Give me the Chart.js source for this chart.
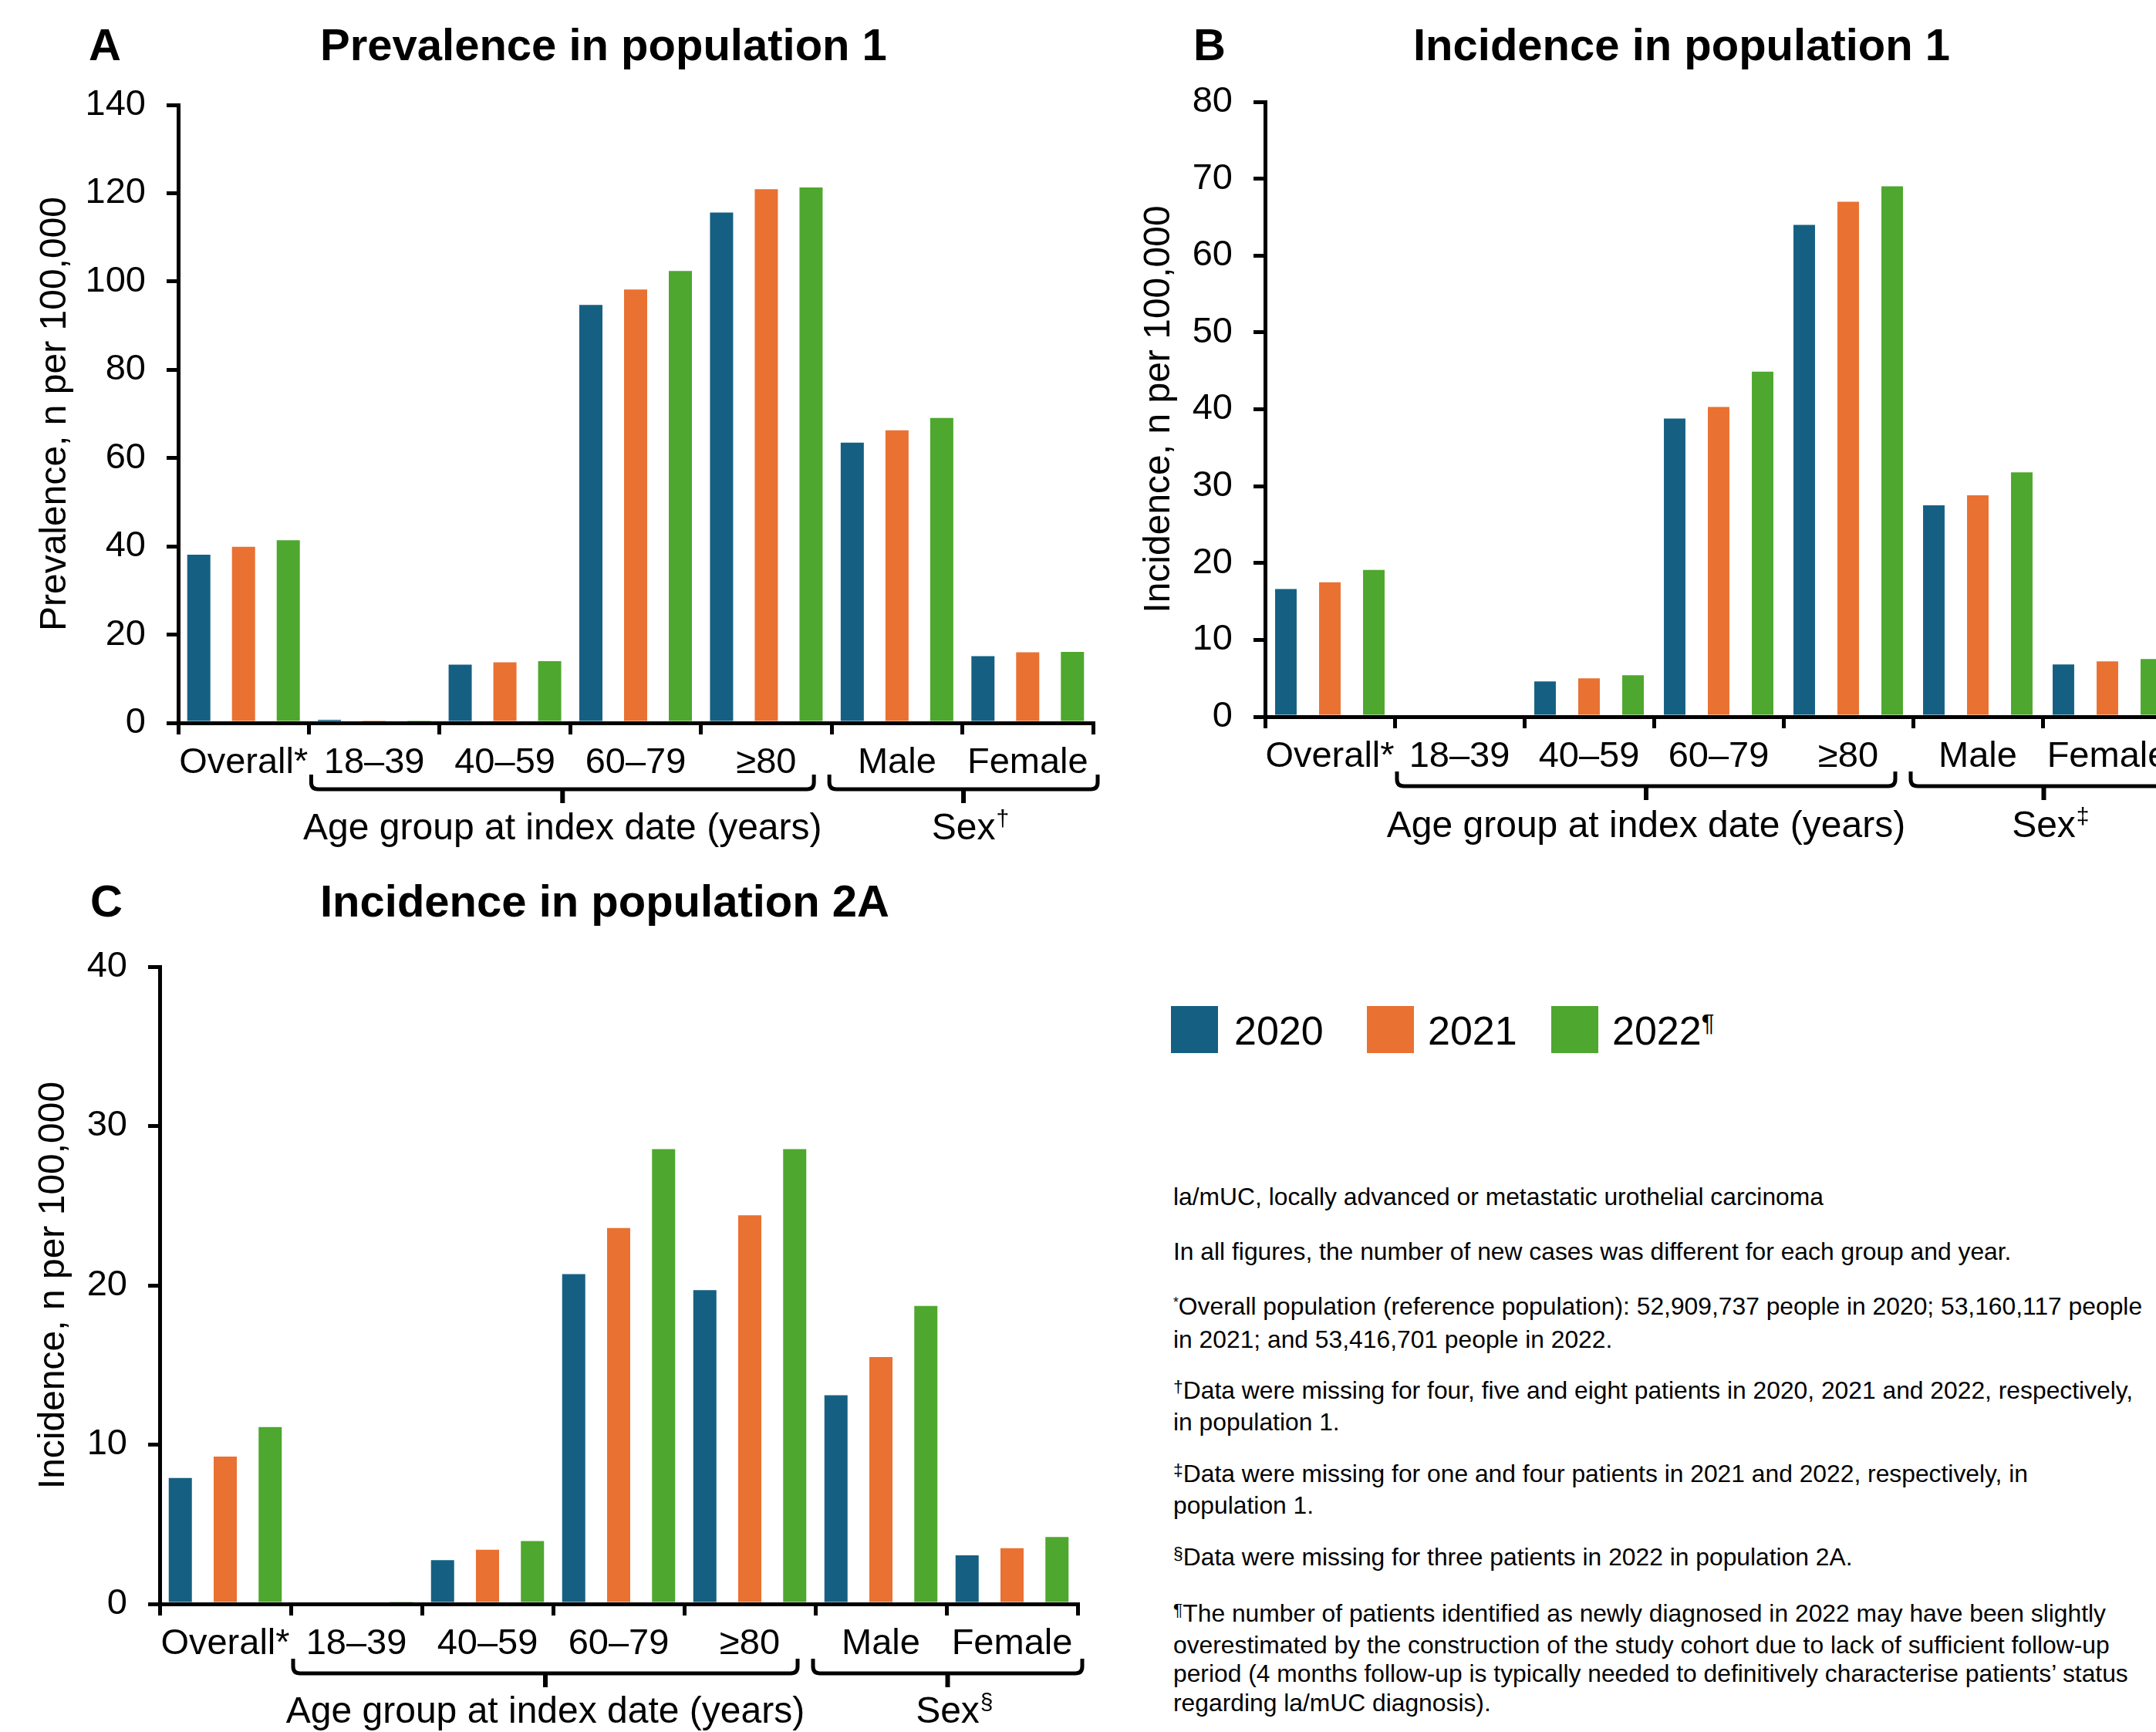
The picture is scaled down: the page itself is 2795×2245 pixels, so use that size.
<!DOCTYPE html>
<html>
<head>
<meta charset="utf-8">
<script src="https://cdn.jsdelivr.net/npm/chart.js@4.4.1/dist/chart.umd.min.js"></script>
<style>
html,body{margin:0;padding:0;background:#fff;}
#page{position:relative;width:2795px;height:2245px;overflow:hidden;background:#fff;font-family:"Liberation Sans",Arial,sans-serif;color:#000;}
#page canvas{position:absolute;}
.ttl{position:absolute;white-space:nowrap;font-weight:bold;font-size:58px;line-height:58px;}
.fn{position:absolute;left:1521px;font-size:31.8px;line-height:37.5px;white-space:nowrap;}
.fn .s{font-size:0.72em;position:relative;top:-0.35em;}
.fn .a{font-size:0.55em;position:relative;top:-0.6em;}
.lg{position:absolute;top:1304px;width:61px;height:61px;}
.lt{position:absolute;top:1310px;font-size:52px;line-height:52px;white-space:nowrap;}
.lt .s{font-size:0.6em;position:relative;top:-0.55em;}
</style>
</head>
<body>
<div id="page">
  <canvas id="cA" width="1440" height="1130" style="left:0px;top:0px;width:1440px;height:1130px"></canvas>
  <canvas id="cB" width="1440" height="1130" style="left:1400px;top:0px;width:1440px;height:1130px"></canvas>
  <canvas id="cC" width="1440" height="1105" style="left:0px;top:1140px;width:1440px;height:1105px"></canvas>

  <div class="ttl" style="left:115px;top:29px">A</div>
  <div class="ttl" style="left:415px;top:29px">Prevalence in population 1</div>
  <div class="ttl" style="left:1547px;top:29px">B</div>
  <div class="ttl" style="left:1832px;top:29px">Incidence in population 1</div>
  <div class="ttl" style="left:117px;top:1139px">C</div>
  <div class="ttl" style="left:415px;top:1139px">Incidence in population 2A</div>

  <div id="legend"></div>

  <div class="fn" style="top:1533px">la/mUC, locally advanced or metastatic urothelial carcinoma</div>
  <div class="fn" style="top:1604px">In all figures, the number of new cases was different for each group and year.</div>
  <div class="fn" style="top:1675px"><span class="a">*</span>Overall population (reference population): 52,909,737 people in 2020; 53,160,117 people<br>in 2021; and 53,416,701 people in 2022.</div>
  <div class="fn" style="top:1784px"><span class="s">†</span>Data were missing for four, five and eight patients in 2020, 2021 and 2022, respectively,<br>in population 1.</div>
  <div class="fn" style="top:1892px"><span class="s">‡</span>Data were missing for one and four patients in 2021 and 2022, respectively, in<br>population 1.</div>
  <div class="fn" style="top:2000px"><span class="s">§</span>Data were missing for three patients in 2022 in population 2A.</div>
  <div class="fn" style="top:2073px"><span class="s">¶</span>The number of patients identified as newly diagnosed in 2022 may have been slightly<br>overestimated by the construction of the study cohort due to lack of sufficient follow-up<br>period (4 months follow-up is typically needed to definitively characterise patients’ status<br>regarding la/mUC diagnosis).</div>
</div>

<script>
// ---------- DATA ----------
const categories = ['Overall*', '18–39', '40–59', '60–79', '≥80', 'Male', 'Female'];
const years = ['2020', '2021', '2022'];
const yearMarks = ['', '', '¶'];
const colors = ['#156082', '#E97132', '#4EA72E'];

// A: Prevalence in population 1 (n per 100,000)
const prevPop1_2020 = [38.1, 0.7, 13.2, 94.7, 115.6, 63.5, 15.1];
const prevPop1_2021 = [39.9, 0.2, 13.7, 98.2, 120.9, 66.3, 16.0];
const prevPop1_2022 = [41.4, 0.2, 14.0, 102.4, 121.3, 69.1, 16.1];

// B: Incidence in population 1
const incPop1_2020 = [16.6, 0, 4.6, 38.8, 64.0, 27.5, 6.8];
const incPop1_2021 = [17.5, 0, 5.0, 40.3, 67.0, 28.8, 7.2];
const incPop1_2022 = [19.1, 0, 5.4, 44.9, 69.0, 31.8, 7.5];

// C: Incidence in population 2A
const incPop2A_2020 = [7.9, 0, 2.75, 20.7, 19.7, 13.1, 3.05];
const incPop2A_2021 = [9.25, 0, 3.4, 23.6, 24.4, 15.5, 3.5];
const incPop2A_2022 = [11.1, 0.1, 3.95, 28.55, 28.55, 18.7, 4.2];

// y-axis tick ranges
const yRangeA = [0, 140, 20];
const yRangeB = [0, 80, 10];
const yRangeC = [0, 40, 10];

const yTitles = ['Prevalence, n per 100,000', 'Incidence, n per 100,000', 'Incidence, n per 100,000'];
const ageGroupLabel = 'Age group at index date (years)';
const sexGroupLabel = 'Sex';
const sexMarks = ['†', '‡', '§'];
// ---------------------------

const FONT = '"Liberation Sans", Arial, sans-serif';

// legend
(function(){
  const lg = document.getElementById('legend');
  const boxX = [1518, 1772, 2011];
  const txtX = [1600, 1851, 2090];
  years.forEach((y, i) => {
    const b = document.createElement('div');
    b.className = 'lg'; b.style.left = boxX[i] + 'px'; b.style.background = colors[i];
    lg.appendChild(b);
    const t = document.createElement('div');
    t.className = 'lt'; t.style.left = txtX[i] + 'px';
    t.innerHTML = y + (yearMarks[i] ? '<span class="s">' + yearMarks[i] + '</span>' : '');
    lg.appendChild(t);
  });
})();

const bracePlugin = {
  id: 'braces',
  afterDraw(chart, args, o) {
    const x = chart.scales.x;
    const ctx = chart.ctx;
    const half = (x.getPixelForValue(1) - x.getPixelForValue(0)) / 2;
    const base = chart.chartArea.bottom;
    ctx.save();
    ctx.strokeStyle = '#000';
    ctx.fillStyle = '#000';
    ctx.lineJoin = 'round';
    o.groups.forEach(g => {
      const L = x.getPixelForValue(g.from) - half + g.padL;
      const R = x.getPixelForValue(g.to) + half + g.padR;
      const yH = base + o.hOff, yT = base + o.topOff, yN = base + o.notchOff, r = 9;
      ctx.lineWidth = 5;
      ctx.beginPath();
      ctx.moveTo(L, yT);
      ctx.lineTo(L, yH - r);
      ctx.quadraticCurveTo(L, yH, L + r, yH);
      ctx.lineTo(R - r, yH);
      ctx.quadraticCurveTo(R, yH, R, yH - r);
      ctx.lineTo(R, yT);
      ctx.stroke();
      const C = (L + R) / 2;
      ctx.lineWidth = 6;
      ctx.beginPath();
      ctx.moveTo(C, yH);
      ctx.lineTo(C, yN);
      ctx.stroke();
      ctx.font = '48px ' + FONT;
      ctx.textBaseline = 'alphabetic';
      ctx.textAlign = 'left';
      const w = ctx.measureText(g.label).width;
      const tx = C - w / 2;
      const ty = base + o.labelOff;
      ctx.fillText(g.label, tx, ty);
      if (g.sup) {
        ctx.font = '30px ' + FONT;
        ctx.fillText(g.sup, tx + w + 1, ty - 17);
      }
    });
    ctx.restore();
  }
};

function build(cfg) {
  const ds = cfg.series.map((vals, i) => ({
    label: years[i], data: vals, backgroundColor: colors[i], borderWidth: 0,
    categoryPercentage: cfg.catPct, barPercentage: cfg.barPct
  }));
  return new Chart(document.getElementById(cfg.id), {
    type: 'bar',
    data: { labels: categories, datasets: ds },
    options: {
      responsive: false, animation: false, devicePixelRatio: 1,
      layout: { padding: cfg.pad },
      plugins: {
        legend: { display: false }, title: { display: false }, tooltip: { enabled: false },
        braces: {
          groups: [
            { label: ageGroupLabel, from: 1, to: 4, padL: 3, padR: -23 },
            { label: sexGroupLabel, sup: cfg.sexMark, from: 5, to: 6, padL: -3, padR: 6 }
          ],
          hOff: cfg.hOff, topOff: cfg.hOff - 19, notchOff: cfg.hOff + 18, labelOff: cfg.labelOff
        }
      },
      scales: {
        x: {
          offset: true,
          grid: { offset: true, drawOnChartArea: false, drawTicks: true, tickLength: 15, lineWidth: 5, color: '#000', z: 1 },
          border: { display: true, width: 5, color: '#000', z: 1 },
          ticks: { autoSkip: false, maxRotation: 0, minRotation: 0, padding: 9, color: '#000', font: { family: FONT, size: 47 } },
          afterFit: s => { s.height = 80; }
        },
        y: {
          min: cfg.range[0], max: cfg.range[1],
          ticks: { stepSize: cfg.range[2], padding: 27, color: '#000', font: { family: FONT, size: 47 } },
          grid: { drawOnChartArea: false, drawTicks: true, tickLength: 15, lineWidth: 5, color: '#000', z: 1 },
          border: { display: true, width: 5, color: '#000', z: 1 },
          title: { display: true, text: cfg.yTitle, color: '#000', font: { family: FONT, size: 48 }, padding: 0 },
          afterFit: s => { s.width = cfg.yW; }
        }
      }
    },
    plugins: [bracePlugin]
  });
}

build({ id: 'cA', series: [prevPop1_2020, prevPop1_2021, prevPop1_2022], range: yRangeA, yTitle: yTitles[0],
  sexMark: sexMarks[0], catPct: 1.027, barPct: 0.517,
  pad: { left: 43, top: 136, right: 23, bottom: 113 }, yW: 188, hOff: 86, labelOff: 151 });

build({ id: 'cB', series: [incPop1_2020, incPop1_2021, incPop1_2022], range: yRangeB, yTitle: yTitles[1],
  sexMark: sexMarks[1], catPct: 1.018, barPct: 0.49,
  pad: { left: 74, top: 132, right: 24, bottom: 121 }, yW: 166, hOff: 90, labelOff: 156 });

build({ id: 'cC', series: [incPop2A_2020, incPop2A_2021, incPop2A_2022], range: yRangeC, yTitle: yTitles[2],
  sexMark: sexMarks[2], catPct: 1.028, barPct: 0.515,
  pad: { left: 41, top: 113, right: 43, bottom: 86 }, yW: 166, hOff: 90, labelOff: 154 });
</script>
</body>
</html>
